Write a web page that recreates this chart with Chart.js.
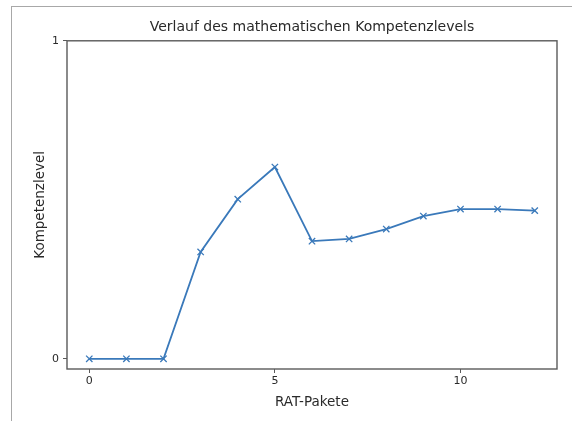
<!DOCTYPE html>
<html>
<head>
<meta charset="utf-8">
<script src="https://cdn.jsdelivr.net/npm/chart.js@4/dist/chart.umd.min.js"></script>
<style>
  html, body { margin: 0; padding: 0; background: #fff; }
  #wrap { position: relative; width: 572px; height: 421px; }
  #frame { position: absolute; left: 11px; top: 6px; right: 0; bottom: 0;
           border-left: 1px solid #a8a8a8; border-top: 1px solid #a8a8a8; pointer-events: none; }
  canvas { position: absolute; left: 0; top: 0; }
</style>
</head>
<body>
<div id="wrap">
  <canvas id="c" width="572" height="421"></canvas>
  <div id="frame"></div>
</div>
<script>
const chartTitle = "Verlauf des mathematischen Kompetenzlevels";
const xAxisTitle = "RAT-Pakete";
const yAxisTitle = "Kompetenzlevel";
const pakete = [0, 1, 2, 3, 4, 5, 6, 7, 8, 9, 10, 11, 12];
const kompetenz = [0, 0, 0, 0.336, 0.502, 0.603, 0.370, 0.377, 0.408, 0.449, 0.471, 0.471, 0.466];
const xTicks = [0, 5, 10];
const yTicks = [0, 1];

const FONT = "'DejaVu Sans', sans-serif";
const TEXT = "#2a2a2a";
const AXIS = "#5a5a5a";

const framePlugin = {
  id: 'frameBox',
  afterDatasetsDraw(chart) {
    const {ctx, chartArea: a} = chart;
    ctx.save();
    ctx.strokeStyle = AXIS;
    ctx.lineWidth = 1.4;
    ctx.strokeRect(a.left, a.top, a.right - a.left, a.bottom - a.top);
    ctx.restore();
  }
};

new Chart(document.getElementById('c'), {
  type: 'line',
  data: {
    datasets: [{
      data: pakete.map((x, i) => ({x: x, y: kompetenz[i]})),
      borderColor: '#3a79ba',
      backgroundColor: '#3a79ba',
      borderWidth: 1.8,
      pointStyle: 'crossRot',
      pointRadius: 4.5,
      pointBorderWidth: 1.3,
      pointBorderColor: '#3a79ba',
      tension: 0,
      fill: false
    }]
  },
  plugins: [framePlugin],
  options: {
    responsive: false,
    animation: false,
    devicePixelRatio: 1,
    layout: { padding: { left: 0, right: 15, top: 0, bottom: 0 } },
    plugins: {
      legend: { display: false },
      tooltip: { enabled: false },
      title: {
        display: true,
        text: chartTitle,
        fullSize: false,
        color: TEXT,
        font: { family: FONT, size: 14, weight: 'normal' },
        padding: { top: 19, bottom: 5 }
      }
    },
    scales: {
      x: {
        type: 'linear',
        min: -0.6,
        max: 12.6,
        afterBuildTicks: s => { s.ticks = xTicks.map(v => ({value: v})); },
        afterFit: s => { s.height = 52; },
        grid: { display: true, drawOnChartArea: false, drawTicks: true, tickLength: 4, color: AXIS, lineWidth: 1 },
        border: { display: false },
        ticks: { color: TEXT, font: { family: FONT, size: 11 }, padding: 2, maxRotation: 0 },
        title: { display: true, text: xAxisTitle, color: TEXT, font: { family: FONT, size: 13.5 }, padding: { top: 0, bottom: 10 } }
      },
      y: {
        type: 'linear',
        min: -0.032,
        max: 1,
        afterBuildTicks: s => { s.ticks = yTicks.map(v => ({value: v})); },
        afterFit: s => { s.width = 67; },
        grid: { display: true, drawOnChartArea: false, drawTicks: true, tickLength: 4, color: AXIS, lineWidth: 1 },
        border: { display: false },
        ticks: { color: TEXT, font: { family: FONT, size: 11 }, padding: 4 },
        title: { display: true, text: yAxisTitle, color: TEXT, font: { family: FONT, size: 13.5 }, padding: { top: 32, bottom: 0 } }
      }
    }
  }
});
</script>
</body>
</html>
